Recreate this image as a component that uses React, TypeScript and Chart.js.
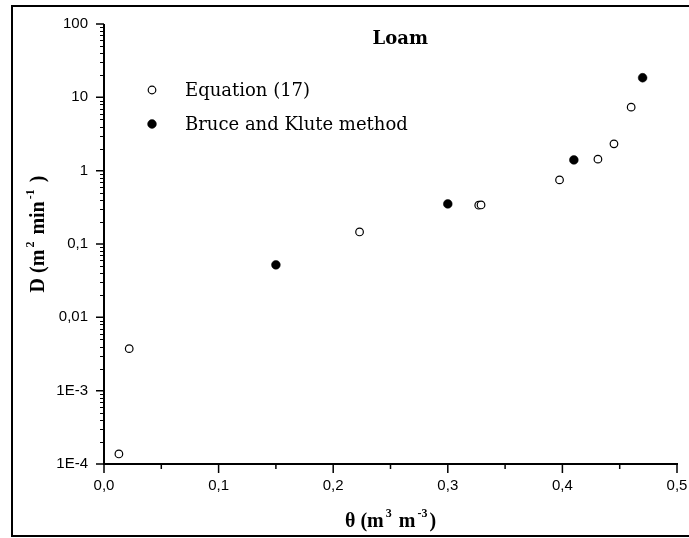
import React, { useEffect, useRef } from "react";
import { Chart, registerables } from "chart.js";

Chart.register(...registerables);

// ---- data ----
const chartTitle = "Loam";
const seriesNames = ["Equation (17)", "Bruce and Klute method"];
const equationTheta = [0.013, 0.022, 0.223, 0.327, 0.329, 0.3975, 0.431, 0.445, 0.46];
const equationD = [1.37e-4, 3.74e-3, 0.146, 0.338, 0.341, 0.748, 1.435, 2.32, 7.35];
const bruceTheta = [0.15, 0.3, 0.41, 0.47];
const bruceD = [0.052, 0.352, 1.4, 18.5];
const xTickValues = [0, 0.1, 0.2, 0.3, 0.4, 0.5];
const xTickLabels = ["0,0", "0,1", "0,2", "0,3", "0,4", "0,5"];
const yTickValues = [1e-4, 1e-3, 0.01, 0.1, 1, 10, 100];
const yTickLabels = ["1E-4", "1E-3", "0,01", "0,1", "1", "10", "100"];
const xTitleParts = [
  { t: "θ (m" },
  { t: "3", sup: true },
  { t: " m" },
  { t: "-3", sup: true },
  { t: ")" },
];
const yTitleParts = [
  { t: "D (m" },
  { t: "2", sup: true },
  { t: " min" },
  { t: "-1", sup: true },
  { t: " )" },
];

const TITLE_FONT = '"Liberation Serif", "Times New Roman", serif';
const LEGEND_FONT = '"DejaVu Serif", serif';

type Part = { t: string; sup?: boolean };

function drawRich(
  ctx: CanvasRenderingContext2D,
  parts: Part[],
  x: number,
  y: number,
  size: number,
  rotate: boolean
) {
  ctx.save();
  ctx.translate(x, y);
  if (rotate) ctx.rotate(-Math.PI / 2);
  const mainFont = `bold ${size}px ${TITLE_FONT}`;
  const supFont = `bold ${Math.round(size * 0.58)}px ${TITLE_FONT}`;
  const pad = 2;
  const widths = parts.map((p) => {
    ctx.font = p.sup ? supFont : mainFont;
    return ctx.measureText(p.t).width + (p.sup ? pad * 2 : 0);
  });
  const total = widths.reduce((a, b) => a + b, 0);
  let cx = -total / 2;
  ctx.textAlign = "left";
  ctx.textBaseline = "alphabetic";
  ctx.fillStyle = "#000";
  parts.forEach((p, i) => {
    ctx.font = p.sup ? supFont : mainFont;
    ctx.fillText(p.t, cx + (p.sup ? pad : 0), p.sup ? -size * 0.5 : 0);
    cx += widths[i];
  });
  ctx.restore();
}

const decorPlugin = {
  id: "decor",
  beforeDraw(chart: any) {
    const ctx = chart.ctx;
    ctx.save();
    ctx.fillStyle = "#fff";
    ctx.fillRect(0, 0, chart.width, chart.height);
    ctx.restore();
  },
  afterDraw(chart: any) {
    const ctx: CanvasRenderingContext2D = chart.ctx;
    const { left, right, top, bottom } = chart.chartArea;
    const xs = chart.scales.x;
    const ys = chart.scales.y;
    ctx.save();
    ctx.strokeStyle = "#000";
    ctx.lineCap = "butt";

    // outer frame
    ctx.lineWidth = 2;
    ctx.beginPath();
    ctx.moveTo(chart.width, 6);
    ctx.lineTo(12, 6);
    ctx.lineTo(12, 536);
    ctx.lineTo(chart.width, 536);
    ctx.stroke();

    // axis lines
    ctx.lineWidth = 2;
    ctx.beginPath();
    ctx.moveTo(left, top);
    ctx.lineTo(left, bottom + 1);
    ctx.moveTo(left - 1, bottom);
    ctx.lineTo(right + 1, bottom);
    ctx.stroke();

    // x ticks
    ctx.lineWidth = 1.5;
    ctx.beginPath();
    xTickValues.forEach((v) => {
      const px = xs.getPixelForValue(v);
      ctx.moveTo(px, bottom);
      ctx.lineTo(px, bottom + 9);
    });
    for (let i = 0; i < xTickValues.length - 1; i++) {
      const px = xs.getPixelForValue((xTickValues[i] + xTickValues[i + 1]) / 2);
      ctx.moveTo(px, bottom);
      ctx.lineTo(px, bottom + 5);
    }
    ctx.stroke();

    // y ticks
    ctx.beginPath();
    yTickValues.forEach((v) => {
      const py = ys.getPixelForValue(v);
      ctx.moveTo(left - 8, py);
      ctx.lineTo(left, py);
    });
    ctx.stroke();
    ctx.lineWidth = 1;
    ctx.beginPath();
    for (let i = 0; i < yTickValues.length - 1; i++) {
      for (let m = 2; m <= 9; m++) {
        const py = Math.round(ys.getPixelForValue(yTickValues[i] * m)) + 0.5;
        ctx.moveTo(left - 4, py);
        ctx.lineTo(left, py);
      }
    }
    ctx.stroke();

    // chart title inside plot
    ctx.fillStyle = "#000";
    ctx.font = `bold 18px ${LEGEND_FONT}`;
    ctx.textAlign = "center";
    ctx.textBaseline = "alphabetic";
    ctx.fillText(chartTitle, left + (right - left) * 0.517, 44);

    // legend
    const rows = [90, 124];
    chart.data.datasets.forEach((ds: any, i: number) => {
      const y = rows[i];
      ctx.beginPath();
      ctx.arc(152, y, ds.pointRadius, 0, Math.PI * 2);
      ctx.fillStyle = ds.backgroundColor;
      ctx.fill();
      ctx.lineWidth = ds.borderWidth;
      ctx.strokeStyle = ds.borderColor;
      ctx.stroke();
      ctx.fillStyle = "#000";
      ctx.font = `18px ${LEGEND_FONT}`;
      ctx.textAlign = "left";
      ctx.textBaseline = "middle";
      ctx.fillText(seriesNames[i], 185, y + 1);
    });

    // axis titles
    drawRich(ctx, xTitleParts, (left + right) / 2, 527, 20, false);
    drawRich(ctx, yTitleParts, 44, 234, 20, true);

    ctx.restore();
  },
};

export default function App() {
  const canvasRef = useRef<HTMLCanvasElement | null>(null);

  useEffect(() => {
    const canvas = canvasRef.current;
    if (!canvas) return;
    const chart = new Chart(canvas, {
      type: "scatter",
      data: {
        datasets: [
          {
            label: seriesNames[0],
            data: equationTheta.map((x, i) => ({ x, y: equationD[i] })),
            pointStyle: "circle",
            pointRadius: 3.8,
            pointHoverRadius: 3.8,
            backgroundColor: "#ffffff",
            borderColor: "#000000",
            borderWidth: 1.2,
          },
          {
            label: seriesNames[1],
            data: bruceTheta.map((x, i) => ({ x, y: bruceD[i] })),
            pointStyle: "circle",
            pointRadius: 4.4,
            pointHoverRadius: 4.4,
            backgroundColor: "#000000",
            borderColor: "#000000",
            borderWidth: 0.5,
          },
        ],
      },
      options: {
        responsive: false,
        devicePixelRatio: 1,
        animation: false,
        events: [],
        layout: {
          autoPadding: false,
          padding: { left: 0, right: 12, top: 24, bottom: 0 },
        },
        plugins: {
          legend: { display: false },
          tooltip: { enabled: false },
          title: { display: false },
        },
        scales: {
          x: {
            type: "linear",
            min: 0,
            max: 0.5,
            grid: { display: false, drawTicks: false },
            border: { display: false },
            afterBuildTicks: (scale: any) => {
              scale.ticks = xTickValues.map((v) => ({ value: v }));
            },
            afterFit: (scale: any) => {
              scale.height = 74;
              scale.paddingLeft = 0;
              scale.paddingRight = 0;
            },
            ticks: {
              padding: 13,
              color: "#000",
              font: { family: '"Liberation Sans", Arial, sans-serif', size: 15 },
              maxRotation: 0,
              autoSkip: false,
              callback: (value: any) => {
                const idx = xTickValues.findIndex((v) => Math.abs(v - Number(value)) < 1e-9);
                return idx >= 0 ? xTickLabels[idx] : "";
              },
            },
          },
          y: {
            type: "logarithmic",
            min: 1e-4,
            max: 100,
            grid: { display: false, drawTicks: false },
            border: { display: false },
            afterBuildTicks: (scale: any) => {
              scale.ticks = yTickValues.map((v) => ({ value: v }));
            },
            afterFit: (scale: any) => {
              scale.width = 104;
              scale.paddingTop = 0;
              scale.paddingBottom = 0;
            },
            ticks: {
              padding: 16,
              color: "#000",
              font: { family: '"Liberation Sans", Arial, sans-serif', size: 15 },
              autoSkip: false,
              callback: (value: any) => {
                const idx = yTickValues.findIndex(
                  (v) => Math.abs(Math.log10(v) - Math.log10(Number(value))) < 1e-6
                );
                return idx >= 0 ? yTickLabels[idx] : "";
              },
            },
          },
        },
      },
      plugins: [decorPlugin],
    } as any);
    return () => chart.destroy();
  }, []);

  return (
    <div style={{ position: "absolute", left: 0, top: 0, width: 689, height: 538, background: "#fff" }}>
      <canvas ref={canvasRef} width={689} height={538} style={{ display: "block" }} />
    </div>
  );
}
